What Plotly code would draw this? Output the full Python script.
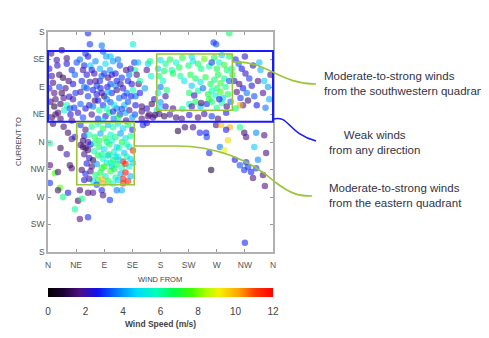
import numpy as np
import plotly.graph_objects as go

# (wind_from_deg, current_to_deg, wind_speed_m_s), grouped by region
region_north_weak = [
    (5,145,1.6),(22,150,1.2),(30,137,1.8),(14,134,2.0),(18,110,1.3),(8,97,1.5),(24,105,1.1),
    (38,118,2.8),(46,130,3.2),(10,80,1.7),(4,66,1.4),(28,88,1.6),(34,74,2.2),(20,62,1.2),
    (40,95,2.6),(16,48,1.5),(6,40,1.3),(26,52,5.5),(30,60,5.8),(12,45,1.6),(20,38,1.4),
    (36,45,2.4),(8,30,1.2),(42,56,2.9),(2,120,1.9),(15,125,2.3),(33,100,1.5),(44,80,3.0),
    (10,58,1.0),(38,35,1.7),(25,72,1.9),(2,88,2.1),(18,90,3.1),(43,110,3.4),
    (12,70,1.6),(30,128,2.5),(40,70,2.0),(6,108,1.8),(22,80,1.3),(35,55,3.2),
]
region_east_weak = [
    (64,178,2.8),(67,160,3.0),(86,158,3.6),(88,148,3.4),(93,140,4.0),
    (51,135,3.5),(58,125,2.8),(62,110,2.5),(67,98,2.2),(72,85,2.7),(83,120,4.2),(83,100,2.9),
    (95,90,2.6),(99,118,3.9),(110,100,2.6),(125,118,1.6),(139,118,6.0),(128,100,2.8),
    (145,95,1.5),(136,85,5.8),(133,75,2.7),(75,68,1.4),(88,60,2.9),(100,65,3.3),(110,55,3.6),
    (122,60,4.4),(130,52,1.7),(139,45,3.1),(60,55,2.6),(52,62,3.4),(48,48,2.2),(70,45,1.8),
    (80,38,3.0),(92,42,2.5),(105,38,3.8),(115,45,2.9),(125,35,1.9),(135,40,4.0),(56,40,3.2),
    (64,75,3.0),(78,78,2.4),(90,75,1.2),(102,80,2.8),(114,72,3.4),(120,88,2.3),(58,90,3.6),
    (68,125,4.5),(76,132,3.8),(92,128,4.7),(104,132,4.0),(115,125,3.2),(60,145,3.0),
    (74,112,2.0),(86,108,3.3),(96,105,1.6),(108,112,2.7),(118,105,3.0),(130,110,3.6),
    (52,82,2.0),(82,52,6.2),(94,55,5.6),(98,48,6.5),(106,60,5.0),(112,40,6.8),(88,35,4.8),
    (124,48,4.2),(140,60,2.6),(76,100,1.7),(66,60,2.3),(100,95,3.1),(84,88,2.6),(110,85,1.5),
    (126,80,3.5),
    (54,100,2.8),(62,88,3.3),(70,118,2.6),(78,92,3.0),(86,80,2.2),(94,70,3.6),(102,110,2.4),
    (108,92,3.8),(116,95,2.1),(122,75,2.9),(128,66,3.2),(134,95,2.4),(138,130,3.0),
    (56,118,1.9),(72,58,3.5),(80,68,2.7),(96,82,4.2),(104,50,2.8),(118,54,3.1),(132,120,2.2),
    (90,112,3.0),(64,140,2.6),(100,140,4.4),(112,135,3.6),(142,110,1.6),(140,75,3.5),
]
region_south_mixed = [
    (136,160,5.2),(144,130,4.4),(160,128,4.6),(163,132,6.3),(158,118,1.8),(147,100,6.0),
    (147,80,2.7),(155,88,4.0),(150,58,1.5),(165,108,5.5),(170,70,2.4),(162,45,1.6),
    (168,40,1.9),(174,52,4.8),(150,50,1.4),(158,55,2.2),(166,62,1.3),
]
region_southwest_strong = [
    (180,134,5.0),(188,128,6.2),(195,135,6.8),(205,130,5.6),(215,138,7.0),(225,125,6.4),
    (232,132,5.2),(240,128,6.6),(250,136,7.8),(258,124,6.0),(266,138,6.9),(274,130,5.4),
    (282,126,7.2),(290,140,6.5),(278,142,4.5),(262,130,3.0),(245,120,6.2),(210,122,6.7),
    (198,118,5.9),(186,116,6.5),(176,120,4.6),(230,140,5.0),(270,120,6.8),(286,118,6.3),
    (178,108,6.2),(184,100,5.8),(180,90,3.6),(190,85,6.4),(176,80,4.7),(188,75,2.0),
    (228,110,6.9),(236,104,6.5),(244,98,5.2),(252,106,7.0),(260,95,6.6),(266,102,6.3),
    (272,110,6.8),(276,96,7.3),(282,104,6.1),(270,88,6.4),(262,84,5.8),(256,78,6.9),
    (276,82,7.5),(284,90,6.2),(290,100,3.2),(230,92,4.5),(240,84,6.0),(248,88,3.5),
    (226,80,6.6),(234,76,2.2),(268,76,5.5),(288,78,6.7),(280,72,4.6),
    (200,112,6.7),(212,108,6.0),(218,100,5.1),
    (180,65,4.0),(178,56,4.9),(188,58,2.3),(200,55,1.6),(215,54,6.2),(226,62,5.6),
    (236,66,6.8),(244,58,4.4),(254,62,2.8),(262,66,6.5),(270,56,6.2),(278,64,6.0),
    (286,58,1.5),(292,66,3.4),(258,70,6.9),(274,70,2.6),(230,58,2.0),
    (171,44,1.3),(178,46,1.6),(186,42,1.2),(195,45,1.9),(205,40,1.4),(214,38,1.8),
    (226,44,2.4),(240,40,1.6),(250,46,2.0),(262,42,3.0),(272,38,1.5),(285,48,2.7),
    (160,42,1.7),(150,38,1.5),(245,64,1.4),
]
region_northwest_weak = [
    (300,135,2.8),(305,128,3.3),(310,120,2.6),(316,112,2.2),(322,104,3.0),(298,100,2.4),
    (306,95,1.5),(312,88,2.7),(318,80,3.6),(326,92,2.5),(302,82,1.7),(308,72,2.9),
    (320,68,1.4),(330,75,3.2),(334,60,2.6),(312,60,1.9),(307,60,10.0),(340,118,4.3),
    (346,100,4.5),(352,90,4.0),(344,80,1.8),(354,70,4.2),(348,56,3.6),(338,130,4.4),
    (356,110,1.5),(328,125,2.0),(336,100,1.6),(315,140,2.3),(300,55,6.5),(295,110,6.8),
    (294,120,6.3),(269,160,3.2),(265,163,3.0),(290,178,6.5),
]
region_below_band = [
    (232,24,1.5),(243,15,2.8),(254,8,3.0),(275,352,3.6),(291,24,10.0),(307,24,6.2),
    (253,15,2.7),(269,28,1.5),(277,28,9.8),(288,3,9.5),(285,20,2.6),(314,15,1.4),
    (317,8,1.7),(333,15,3.8),(330,352,4.5),(346,11,1.6),(349,342,1.5),(258,342,2.8),
    (282,347,9.0),(152,28,2.8),(158,31,2.2),(208,18,1.0),(219,24,1.4),
]
region_northwest_cluster = [
    (317,327,2.8),(320,319,3.0),(325,311,2.7),(307,322,3.2),(299,331,2.6),(328,301,1.6),
    (344,306,1.5),(347,288,1.7),(314,314,2.9),(333,317,3.0),(336,331,3.8),(261,314,0.8),
    (315,195,2.8),
]
region_east_strong = [
    (52,28,3.0),(60,20,1.6),(70,25,6.2),(80,30,5.5),(88,22,6.8),(96,28,4.4),(104,24,6.0),
    (112,30,5.2),(120,22,4.6),(128,28,6.5),(135,20,2.8),(58,10,2.4),(66,12,5.8),(75,8,6.6),
    (84,14,4.2),(92,6,7.0),(100,12,5.6),(108,8,6.3),(116,14,4.0),(124,6,5.0),(132,10,6.2),
    (56,2,1.4),(64,0,2.0),
    (52,355,1.5),(60,350,1.2),(68,356,2.6),(74,345,5.9),(82,352,6.4),(90,348,4.8),
    (98,356,6.9),(106,344,5.3),(114,350,6.1),(122,342,4.4),(130,352,5.0),(136,346,11.5),
    (58,340,1.7),(66,334,2.3),(72,330,1.0),(80,338,6.6),(88,332,5.6),(96,338,4.2),
    (104,330,6.8),(112,336,5.4),(120,328,11.8),(126,336,6.0),(132,332,4.6),(62,325,2.5),
    (70,320,1.5),(78,324,4.0),(86,318,6.7),(94,326,5.2),(102,320,4.5),(110,324,6.4),
    (118,318,5.8),(124,324,11.6),(130,320,5.5),(136,326,4.8),
    (54,314,1.4),(60,308,2.8),(68,312,1.8),(76,306,6.3),(84,310,6.8),(92,304,5.2),
    (100,312,7.2),(108,302,6.0),(116,308,4.4),(120,300,11.7),(124,310,11.9),(128,296,11.5),
    (132,304,4.3),(72,296,5.0),(80,298,6.6),(86,300,9.8),(88,292,10.2),(96,296,7.0),
    (104,292,5.6),(112,298,4.6),(120,292,11.4),(66,300,1.6),(58,298,2.4),(78,290,3.2),
    (98,340,6.2),(106,316,6.6),(114,330,5.0),(90,320,7.4),(94,360,6.0),(102,2,5.4),
    (110,352,4.7),(118,0,6.8),(126,356,5.8),(74,358,6.2),(82,2,6.9),(86,340,6.0),
    (100,326,5.8),(108,336,4.9),
]
region_east_tail = [
    (64,277,1.5),(72,277,1.8),(86,281,2.8),(88,273,1.6),(99,265,2.9),(110,281,3.6),
    (118,281,4.2),(51,281,1.5),(48,264,1.3),(54,267,6.3),(43,250,6.0),(51,234,1.6),
    (64,237,2.8),(32,277,2.7),(24,270,6.2),(19,285,7.8),(16,281,1.4),(3,293,2.9),
    (11,309,7.5),(16,311,1.5),(3,322,1.6),(35,322,1.3),(38,317,1.6),(3,358,6.0),
    (43,8,2.8),(56,352,1.5),(64,347,1.4),(25,25,1.5),(32,15,1.3),(38,5,1.8),(20,350,1.2),
    (30,340,2.0),
]

regions = [region_north_weak, region_east_weak, region_south_mixed, region_southwest_strong,
           region_northwest_weak, region_below_band, region_northwest_cluster,
           region_east_strong, region_east_tail]

x_ticks = [0, 45, 90, 135, 180, 225, 270, 315, 360]
x_labels = ["N", "NE", "E", "SE", "S", "SW", "W", "NW", "N"]
y_ticks = [180, 225, 270, 315, 360, 405, 450, 495, 540]
y_labels = ["S", "SW", "W", "NW", "N", "NE", "E", "SE", "S"]
speed_ticks = [0, 2, 4, 6, 8, 10, 12]

# highlighted regimes (wind from x0..x1, unwrapped current y0..y1)
box_weak = (0, 360, 393, 509)
box_southwest = (174, 295, 412, 504)
box_east = (46, 138, 290, 392)

pts = np.array([p for r in regions for p in r], dtype=float)
wind = pts[:, 0]
curr = pts[:, 1]
speed = pts[:, 2]
curr_plot = np.where(curr < 180, curr + 360, curr)

XR = (0, 360)
YR = (180, 540)
OFF = 8                      # page body margin
L, T, PW, PH = 48, 32, 225, 220
W, H = 489 - OFF, 338 - OFF


def px(xp, yp):
    return (xp - L) / PW, (T + PH - yp) / PH


def dx(v):
    return (v - XR[0]) / (XR[1] - XR[0])


def dy(v):
    return (v - YR[0]) / (YR[1] - YR[0])


cscale = [
    [0.0, "#000000"], [0.07, "#1c0036"], [0.14, "#4d0c82"], [0.22, "#1010f0"],
    [0.31, "#0080ff"], [0.39, "#00d8ff"], [0.48, "#00ffb8"], [0.56, "#00ff48"],
    [0.64, "#40ff00"], [0.70, "#a8ff00"], [0.76, "#f5f000"], [0.85, "#ffa000"],
    [0.92, "#ff3800"], [1.0, "#ff0000"],
]

fig = go.Figure()
fig.add_trace(go.Scatter(
    x=wind, y=curr_plot, mode="markers",
    marker=dict(size=6.5, color=speed, cmin=0, cmax=12, colorscale=cscale, opacity=0.58,
                line=dict(width=0),
                colorbar=dict(orientation="h", x=0, xanchor="left", len=1.0, lenmode="fraction",
                              y=px(0, 288)[1], yanchor="top", thickness=9, outlinewidth=0,
                              xpad=0, ypad=0, tickvals=speed_ticks,
                              ticks="outside", ticklen=6, tickcolor="rgba(0,0,0,0)",
                              tickfont=dict(size=10, color="#444", family="Liberation Sans"),
                              title=dict(text="<b>Wind Speed (m/s)</b>", side="bottom",
                                         font=dict(size=8.5, color="#444", family="Liberation Sans")))),
    showlegend=False, hoverinfo="skip"))

shapes = []
for (x0, x1, y0, y1), col, wdt in [(box_weak, "#1a1aff", 2), (box_southwest, "#9ac53a", 1.6),
                                    (box_east, "#9ac53a", 1.6)]:
    shapes.append(dict(type="rect", xref="paper", yref="paper", x0=dx(x0), x1=dx(x1),
                       y0=dy(y0), y1=dy(y1), line=dict(color=col, width=wdt)))


def path_from(pixels, cmds):
    s = []
    it = iter(pixels)
    for c in cmds.split():
        if c in ("M", "L", "C", "Q"):
            s.append(c)
        else:
            a, b = px(*next(it))
            s.append(f"{a:.4f},{b:.4f}")
    return " ".join(s)


curve1 = path_from([(232, 62), (268, 60), (278, 84), (316, 84)], "M p C p p p")
curve2 = path_from([(273, 119), (290, 115), (287, 133), (316, 141)], "M p C p p p")
curve3 = path_from([(134, 146), (172, 146), (215, 145), (250, 160), (275, 182), (292, 195),
                    (300, 196), (312, 196)], "M p L p C p p p C p p p")
for pth, col in [(curve1, "#9ac53a"), (curve2, "#1a1aff"), (curve3, "#9ac53a")]:
    shapes.append(dict(type="path", xref="paper", yref="paper", path=pth,
                       line=dict(color=col, width=1.6)))

annos = []
txtfont = dict(size=11.5, color="#333344", family="Liberation Sans")
for xp, yp, text, anchor in [
    (322, 83, "Moderate-to-strong winds<br>from the southwestern quadrant", "left"),
    (374, 142, "Weak winds<br>from any direction", "center"),
    (327, 195, "Moderate-to-strong winds<br>from the eastern quadrant", "left"),
]:
    a, b = px(xp, yp)
    annos.append(dict(x=a, y=b, xref="paper", yref="paper", text=text, showarrow=False,
                      xanchor=anchor, yanchor="middle", align=anchor, font=txtfont))

# axis titles placed as paper annotations at the reference positions
a, b = px(160, 279)
annos.append(dict(x=a, y=b, xref="paper", yref="paper", text="WIND FROM", showarrow=False,
                  xanchor="center", yanchor="middle", font=dict(size=7.5, color="#444")))
a, b = px(18, 142)
annos.append(dict(x=a, y=b, xref="paper", yref="paper", text="CURRENT TO", showarrow=False,
                  textangle=-90, xanchor="center", yanchor="middle", font=dict(size=7.5, color="#444")))

fig.update_layout(
    width=W, height=H,
    margin=dict(l=L - OFF, r=W - (L - OFF) - PW, t=T - OFF, b=H - (T - OFF) - PH, autoexpand=False),
    paper_bgcolor="white", plot_bgcolor="white",
    shapes=shapes, annotations=annos,
    font=dict(family="Liberation Sans"),
)
axcommon = dict(showgrid=False, zeroline=False, showline=True, linecolor="#b0b0b0", linewidth=1.5,
                mirror="ticks", ticks="inside", ticklen=3, tickcolor="#999", automargin=False,
                tickfont=dict(size=8.5, color="#555"))
fig.update_xaxes(range=XR, tickvals=x_ticks, ticktext=x_labels, ticklabelstandoff=4, **axcommon)
fig.update_yaxes(range=YR, tickvals=y_ticks, ticktext=y_labels, **axcommon)

fig.write_html("out.html")
